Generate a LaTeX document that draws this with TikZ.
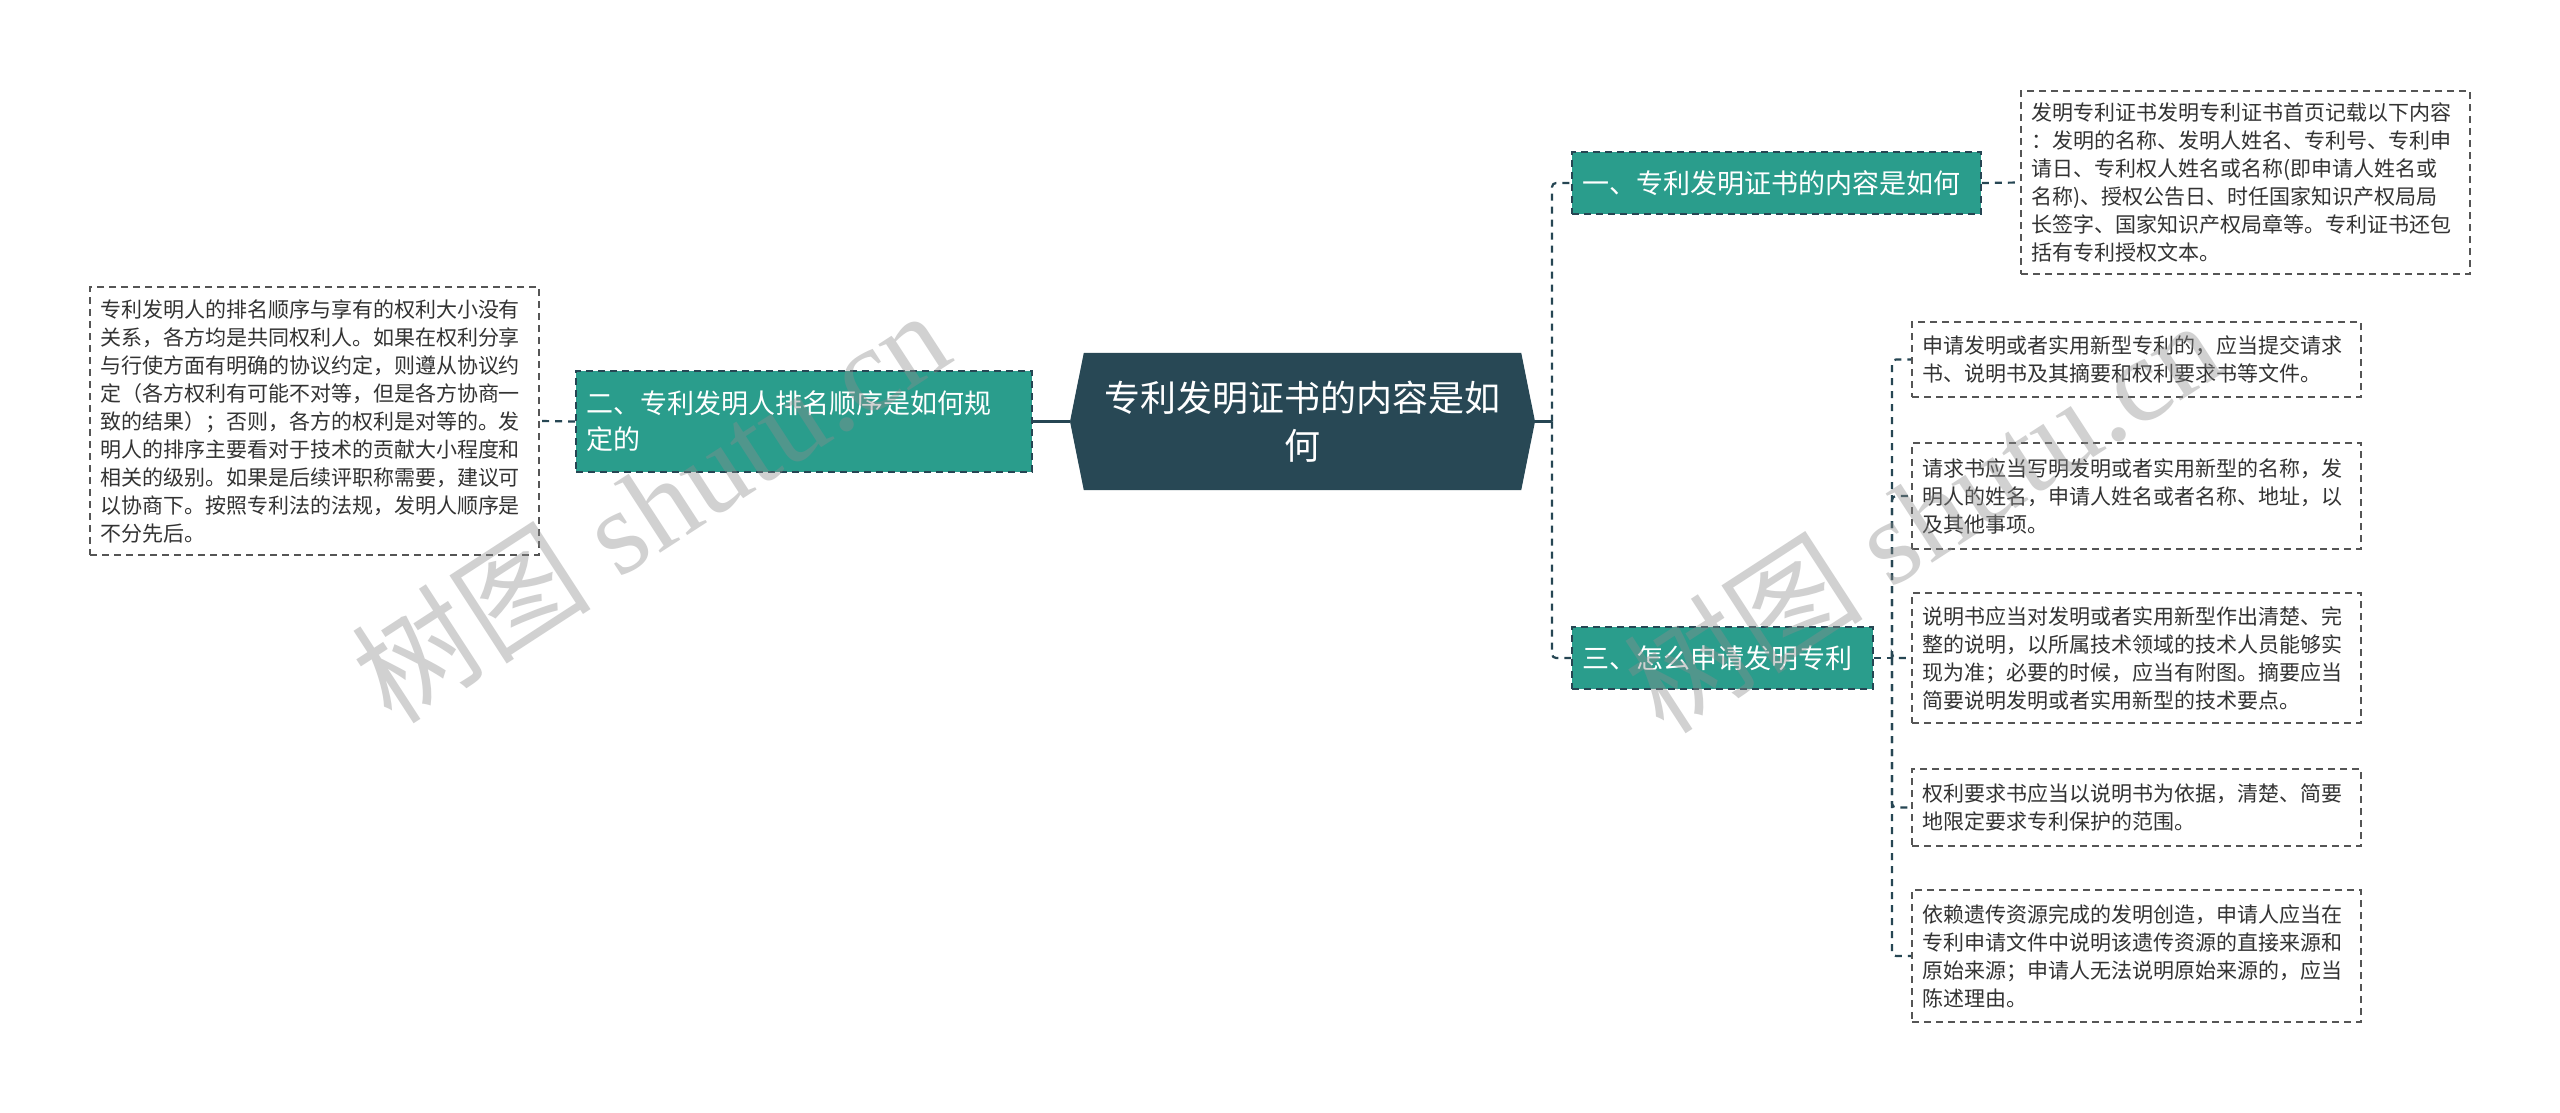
\documentclass[tikz,border=0pt]{standalone}
\usepackage{fontspec}
\setmainfont{Liberation Serif}
\newfontfamily\cjk{Noto Sans CJK SC}
\usetikzlibrary{backgrounds}
\definecolor{cdark}{HTML}{284855}
\definecolor{tealbox}{HTML}{2A9D8C}
\definecolor{ctext}{HTML}{333333}
\definecolor{cline}{HTML}{264653}
\definecolor{cleaf}{HTML}{555555}
\tikzset{
  leaf/.style={draw=cleaf, dash pattern=on 7pt off 5pt, line width=1.6pt, fill=white,
    text=ctext, align=left, inner xsep=10pt, inner ysep=6pt,
    font=\cjk\fontsize{21}{28}\selectfont, minimum width=449pt, text width=429pt},
  branch/.style={draw=cline, dash pattern=on 7pt off 5pt, line width=1.6pt, fill=tealbox,
    text=white, align=left, inner xsep=10pt, inner ysep=4pt,
    font=\cjk\fontsize{27}{36}\selectfont},
  central/.style={text=white, align=center, inner sep=0pt,
    font=\cjk\fontsize{36}{48}\selectfont, minimum width=437pt, minimum height=137pt, text width=430pt},
  conn/.style={draw=cline, line width=2.2pt},
  dconn/.style={conn, dash pattern=on 7pt off 6pt},
  wm/.style={text=black!45, text opacity=0.4, font=\fontsize{120}{120}\selectfont, rotate=33}
}
\begin{document}
\begin{tikzpicture}[x=1pt,y=-1pt]
\useasboundingbox (0,0) rectangle (2560,1113);

% central node
\node[central] (c) at (1302.5,421.5) {专利发明证书的内容是如\\何};
\coordinate (cl) at (1070,421.5);
\coordinate (cr) at (1535,421.5);

% branches
\node[branch, text width=389pt, minimum height=62pt] (b1) at (1776.5,183) {一、专利发明证书的内容是如何};
\node[branch, text width=436pt, minimum height=101pt] (b2) at (804,421.5) {二、专利发明人排名顺序是如何规\\定的};
\node[branch, text width=281pt, minimum height=62pt] (b3) at (1722.5,658) {三、怎么申请发明专利};

% leaves
\node[leaf, minimum height=183pt] (l1) at (2245.5,182.5) {发明专利证书发明专利证书首页记载以下内容\\：发明的名称、发明人姓名、专利号、专利申\\请日、专利权人姓名或名称(即申请人姓名或\\名称)、授权公告日、时任国家知识产权局局\\长签字、国家知识产权局章等。专利证书还包\\括有专利授权文本。};
\node[leaf, minimum height=268pt] (l2) at (314.5,421) {专利发明人的排名顺序与享有的权利大小没有\\关系，各方均是共同权利人。如果在权利分享\\与行使方面有明确的协议约定，则遵从协议约\\定（各方权利有可能不对等，但是各方协商一\\致的结果）；否则，各方的权利是对等的。发\\明人的排序主要看对于技术的贡献大小程度和\\相关的级别。如果是后续评职称需要，建议可\\以协商下。按照专利法的法规，发明人顺序是\\不分先后。};
\node[leaf, minimum height=75pt] (l3a) at (2136.5,359.5) {申请发明或者实用新型专利的，应当提交请求\\书、说明书及其摘要和权利要求书等文件。};
\node[leaf, minimum height=106pt] (l3b) at (2136.5,496) {请求书应当写明发明或者实用新型的名称，发\\明人的姓名，申请人姓名或者名称、地址，以\\及其他事项。};
\node[leaf, minimum height=130pt] (l3c) at (2136.5,658) {说明书应当对发明或者实用新型作出清楚、完\\整的说明，以所属技术领域的技术人员能够实\\现为准；必要的时候，应当有附图。摘要应当\\简要说明发明或者实用新型的技术要点。};
\node[leaf, minimum height=77pt] (l3d) at (2136.5,807.5) {权利要求书应当以说明书为依据，清楚、简要\\地限定要求专利保护的范围。};
\node[leaf, minimum height=132pt] (l3e) at (2136.5,956) {依赖遗传资源完成的发明创造，申请人应当在\\专利申请文件中说明该遗传资源的直接来源和\\原始来源；申请人无法说明原始来源的，应当\\陈述理由。};

% background: page, central shape, connectors
\coordinate (j1) at (1552,421.5);
\coordinate (j3) at (1892,658);
\begin{scope}[on background layer]
\fill[white] (0,0) rectangle (2560,1113);
\fill[cdark] (c.north west) -- (c.north east) -- (cr) -- (c.south east) -- (c.south west) -- (cl) -- cycle;
\draw[conn] (cl) -- (b2.east);
\draw[conn] (cr) -- (j1);
\draw[dconn, rounded corners=4pt] (j1) |- (b1.west);
\draw[dconn, rounded corners=4pt] (j1) |- (b3.west);
\draw[dconn] (b1.east) -- (l1.west);
\draw[dconn] (b2.west) -- (l2.east);
\draw[dconn] (b3.east) -- (j3);
\foreach \n in {l3a,l3b,l3c,l3d,l3e}
  \draw[dconn, rounded corners=4pt] (j3) |- (\n.west);
\end{scope}

% watermarks
\node[wm] (w1) at (650,505) {{\cjk 树图} shutu.cn};
\node[wm] (w2) at (1922,515) {{\cjk 树图} shutu.cn};
\end{tikzpicture}
\end{document}
